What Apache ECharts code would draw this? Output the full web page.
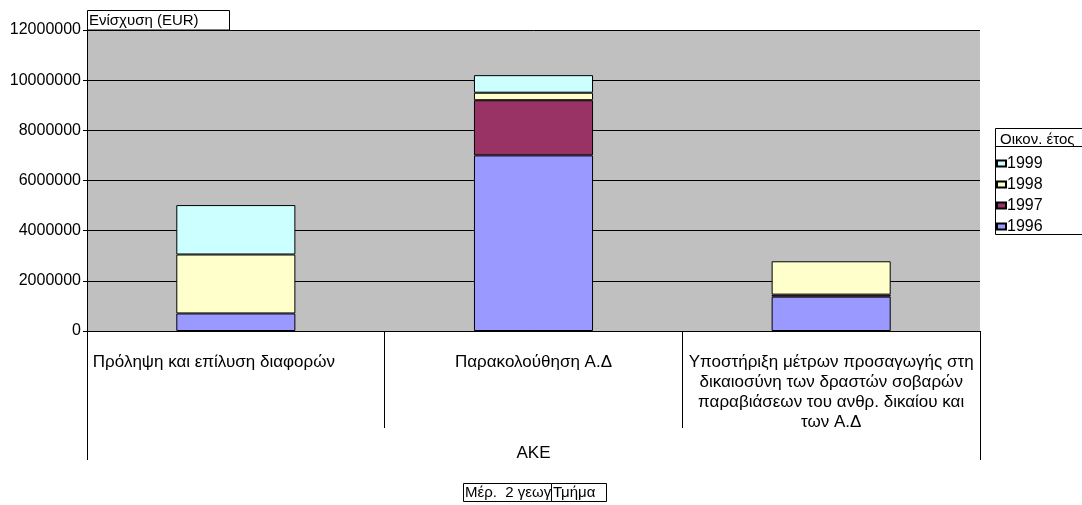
<!DOCTYPE html>
<html>
<head>
<meta charset="utf-8">
<title>Ενίσχυση (EUR)</title>
<script src="https://cdn.jsdelivr.net/npm/echarts@6/dist/echarts.min.js"></script>
<style>
  html, body { margin: 0; padding: 0; background: #ffffff; }
  #chart { width: 1082px; height: 505px; }
</style>
</head>
<body>
<div id="chart"></div>
<script>
// Programme categories (AKE)
const categories = [
  'Πρόληψη και επίλυση διαφορών',
  'Παρακολούθηση Α.Δ',
  'Υποστήριξη μέτρων προσαγωγής στη\nδικαιοσύνη των δραστών σοβαρών\nπαραβιάσεων του ανθρ. δικαίου και\nτων Α.Δ'
];

// Funding per financial year (EUR)
const years = ['1996', '1997', '1998', '1999'];
const values1996 = [700000, 7000000, 1370000];
const values1997 = [null, 2200000, 80000];
const values1998 = [2350000, 300000, 1330000];
const values1999 = [1970000, 700000, null];

const yMin = 0;
const yMax = 12000000;
const yStep = 2000000;

const seriesValues = [values1996, values1997, values1998, values1999];
const seriesColors = ['#9999FF', '#993366', '#FFFFCC', '#CCFFFF'];

const FONT = '"Liberation Sans", Arial, sans-serif';

// Plot rectangle
const G_LEFT = 87, G_TOP = 30, G_RIGHT = 980, G_BOTTOM = 331;

const chart = echarts.init(document.getElementById('chart'), null, { renderer: 'canvas' });

const series = years.map((y, i) => ({
  name: y,
  type: 'bar',
  stack: 'total',
  barWidth: '40%',
  data: seriesValues[i],
  itemStyle: { color: seriesColors[i], borderColor: '#000000', borderWidth: 1 },
  emphasis: { disabled: true }
}));

chart.setOption({
  animation: false,
  backgroundColor: '#ffffff',
  textStyle: { fontFamily: FONT },
  grid: {
    left: G_LEFT,
    top: G_TOP,
    right: 1082 - G_RIGHT,
    bottom: 505 - G_BOTTOM,
    show: true,
    backgroundColor: '#C0C0C0',
    borderWidth: 0,
    containLabel: false
  },
  legend: {
    data: years.slice().reverse(),
    orient: 'vertical',
    left: 996,
    top: 154,
    padding: 0,
    itemWidth: 9,
    itemHeight: 6,
    itemGap: 2,
    icon: 'rect',
    selectedMode: false,
    textStyle: { fontFamily: FONT, fontSize: 16, color: '#000000', padding: [5, 0, 0, -4], lineHeight: 14 }
  },
  xAxis: {
    type: 'category',
    data: categories,
    axisLine: { show: true, lineStyle: { color: '#000000', width: 1 } },
    axisTick: { show: true, length: 97, lineStyle: { color: '#000000', width: 1 } },
    axisLabel: {
      interval: 0,
      margin: 21,
      color: '#000000',
      fontFamily: FONT,
      fontSize: 17,
      lineHeight: 20,
      verticalAlign: 'top',
      formatter: function (v, idx) {
        return idx === 0 ? '{l|' + v + '}' : v;
      },
      rich: {
        l: { width: 286, align: 'left', fontSize: 17, lineHeight: 20, fontFamily: FONT, color: '#000000' }
      }
    },
    splitLine: { show: false }
  },
  yAxis: {
    type: 'value',
    min: yMin,
    max: yMax,
    interval: yStep,
    axisLine: { show: true, lineStyle: { color: '#000000', width: 1 } },
    axisTick: { show: true, length: 4, lineStyle: { color: '#000000' } },
    axisLabel: {
      color: '#000000', fontFamily: FONT, fontSize: 16, margin: 6,
      formatter: function (v) { return String(v); }
    },
    splitLine: { show: true, lineStyle: { color: '#000000', width: 1 } }
  },
  graphic: [
    // Axis title box
    {
      type: 'rect', z: 100,
      shape: { x: 87.5, y: 10.5, width: 142, height: 19.5 },
      style: { fill: '#ffffff', stroke: '#000000', lineWidth: 1 }
    },
    {
      type: 'text', z: 101, left: 89, top: 13,
      style: { text: 'Ενίσχυση (EUR)', fontFamily: FONT, fontSize: 15, fill: '#000000' }
    },
    // Legend frame and heading
    {
      type: 'rect', z: 0,
      shape: { x: 995.5, y: 128.5, width: 100, height: 106 },
      style: { fill: '#ffffff', stroke: '#000000', lineWidth: 1 }
    },
    {
      type: 'line', z: 1,
      shape: { x1: 995.5, y1: 146.5, x2: 1082, y2: 146.5 },
      style: { stroke: '#000000', lineWidth: 1 }
    },
    {
      type: 'text', z: 2, left: 1000, top: 132,
      style: { text: 'Οικον. έτος', fontFamily: FONT, fontSize: 15, fill: '#000000' }
    },
    // Outer frame of the multi-level category axis
    {
      type: 'line', z: 5,
      shape: { x1: G_LEFT + 0.5, y1: G_BOTTOM, x2: G_LEFT + 0.5, y2: 460 },
      style: { stroke: '#000000', lineWidth: 1 }
    },
    {
      type: 'line', z: 5,
      shape: { x1: G_RIGHT + 0.5, y1: G_BOTTOM, x2: G_RIGHT + 0.5, y2: 460 },
      style: { stroke: '#000000', lineWidth: 1 }
    },
    {
      type: 'text', z: 5, x: (G_LEFT + G_RIGHT) / 2, y: 453,
      style: { text: 'ΑΚΕ', fontFamily: FONT, fontSize: 17, fill: '#000000', align: 'center', verticalAlign: 'middle' }
    },
    // Page field buttons
    {
      type: 'rect', z: 5,
      shape: { x: 463.5, y: 483.5, width: 88, height: 18 },
      style: { fill: '#ffffff', stroke: '#000000', lineWidth: 1 }
    },
    {
      type: 'text', z: 6, left: 465, top: 485,
      style: { text: 'Μέρ.  2 γεωγρ.', fontFamily: FONT, fontSize: 15, fill: '#000000' }
    },
    {
      type: 'rect', z: 7,
      shape: { x: 551.5, y: 483.5, width: 55, height: 18 },
      style: { fill: '#ffffff', stroke: '#000000', lineWidth: 1 }
    },
    {
      type: 'text', z: 8, left: 553, top: 485,
      style: { text: 'Τμήμα', fontFamily: FONT, fontSize: 15, fill: '#000000' }
    }
  ],
  series: series
});
</script>
</body>
</html>
